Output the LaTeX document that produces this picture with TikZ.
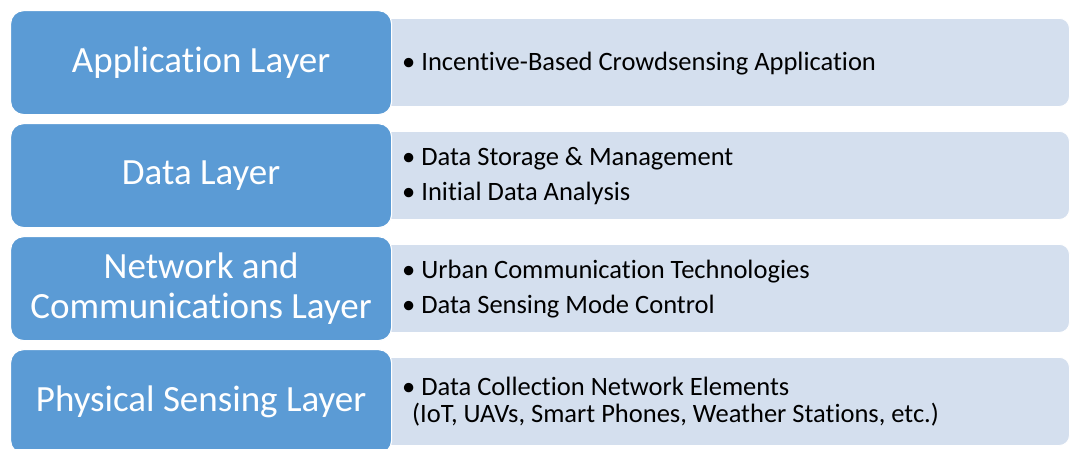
\documentclass[tikz,border=0pt]{standalone}
\usepackage{fontspec}
\setmainfont{Carlito}[RawFeature={-liga;-clig;-calt;-dlig}]
\definecolor{layerblue}{HTML}{5B9BD5}
\definecolor{itemfill}{HTML}{D4DFEE}
\tikzset{
  layerbox/.style={draw=white, line width=1.2pt, fill=layerblue, rounded corners=13pt,
    minimum width=381pt, minimum height=104pt, anchor=north west, inner sep=0pt,
    text=white, align=center, font=\fontsize{37}{40}\selectfont},
  itembox/.style={draw=white, line width=0.8pt, fill=itemfill, rounded corners=10pt,
    minimum width=699pt, minimum height=88pt, anchor=north west, inner sep=0pt},
  itemtext/.style={anchor=west, align=left, inner sep=0pt, text=black,
    font=\fontsize{26.5}{27}\selectfont},
}
\begin{document}
\begin{tikzpicture}[x=1pt,y=-1pt]
\useasboundingbox (0,0) rectangle (1072,448);
\clip (0,0) rectangle (1072,448);
% item panels sit behind the layer boxes
\node[itembox] (I1) at (370,18)  {};
\node[itembox] (I2) at (370,131) {};
\node[itembox] (I3) at (370,244) {};
\node[itembox] (I4) at (370,357) {};
% layer boxes
\node[layerbox] (L1) at (10,10)  {Application Layer};
\node[layerbox] (L2) at (10,123) {Data Layer};
\node[layerbox] (L3) at (10,236) {Network and\\Communications Layer};
\node[layerbox] (L4) at (10,349) {Physical Sensing Layer};
% bullet texts
\node[itemtext] (T1) at (402,63.5)  {• Incentive-Based Crowdsensing Application};
\node[itemtext] (T2) at (402,176.5) {• Data Storage \& Management\\[8pt]• Initial Data Analysis};
\node[itemtext] (T3) at (402,289.5) {• Urban Communication Technologies\\[8pt]• Data Sensing Mode Control};
\node[itemtext] (T4) at (402,402) {• Data Collection Network Elements\\\hspace*{10pt}(IoT, UAVs, Smart Phones, Weather Stations, etc.)};
\end{tikzpicture}
\end{document}
